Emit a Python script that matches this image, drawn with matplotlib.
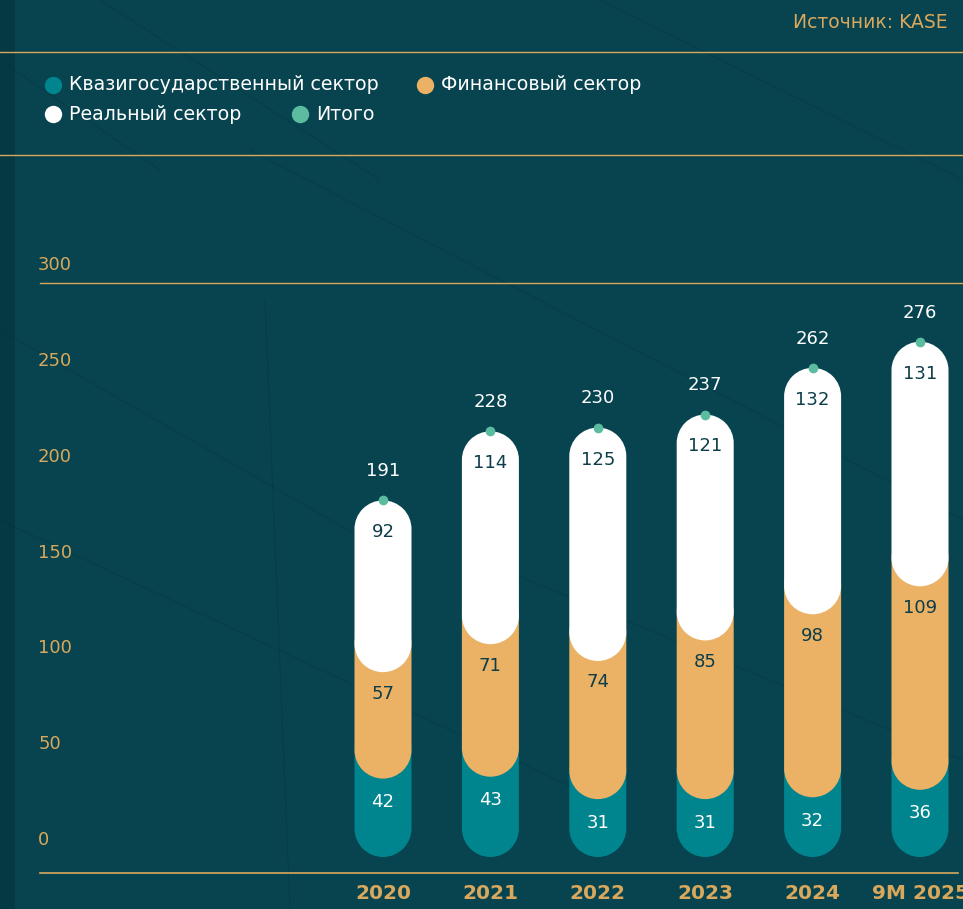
import matplotlib
matplotlib.use("Agg")
import matplotlib.pyplot as plt
from matplotlib.patches import Rectangle, PathPatch
from matplotlib.path import Path
import numpy as np

# ---------- data ----------
years = ['2020', '2021', '2022', '2023', '2024', '9M 2025']
quasi = [42, 43, 31, 31, 32, 36]          # Квазигосударственный сектор
finance = [57, 71, 74, 85, 98, 109]       # Финансовый сектор
real = [92, 114, 125, 121, 132, 131]      # Реальный сектор
totals = [191, 228, 230, 237, 262, 276]   # Итого
y_ticks = [0, 50, 100, 150, 200, 250, 300]

series_names = ['Квазигосударственный сектор', 'Финансовый сектор', 'Реальный сектор', 'Итого']

BG = '#07444F'
TEAL = '#00858F'
ORANGE = '#EBB164'
WHITE = '#FFFFFF'
GREEN = '#5CBC9F'
GOLD = '#D9A85C'
DARK = '#0C3D48'

plt.rcParams['font.family'] = ['DejaVu Sans']

W, H = 963, 909
fig = plt.figure(figsize=(W / 100, H / 100), dpi=100)
fig.patch.set_facecolor(BG)

# ---------- background / decorations (pixel coords) ----------
deco = fig.add_axes([0, 0, 1, 1])
deco.set_xlim(0, W)
deco.set_ylim(H, 0)
deco.axis('off')
deco.add_patch(Rectangle((0, 0), 15, H, color='#053a43', lw=0))
# faint texture lines of the backdrop
for (xa, ya, xb, yb) in [(0, 330, 400, 560), (0, 520, 600, 800), (100, 0, 380, 180),
                         (250, 150, 963, 520), (600, 0, 963, 180), (265, 300, 290, 909),
                         (0, 60, 160, 170), (480, 560, 963, 760)]:
    deco.plot([xa, xb], [ya, yb], color='#02303a', lw=0.8, alpha=0.3)
deco.axhline(52, color=GOLD, lw=1.0)
deco.axhline(155, color=GOLD, lw=1.0)
deco.text(948, 23, 'Источник: KASE', color=GOLD, fontsize=13.5, ha='right', va='center')

legend_pos = [(53, 85), (425, 85), (53, 114), (300, 114)]
legend_cols = [TEAL, ORANGE, WHITE, GREEN]
for (lx, ly), c, name in zip(legend_pos, legend_cols, series_names):
    deco.plot(lx, ly, 'o', ms=12.5, color=c, mec='none')
    deco.text(lx + 16, ly, name, color='white', fontsize=13.7, va='center', ha='left')

# ---------- y tick labels (their own scale, as in the original) ----------
ax_y = fig.add_axes([38 / W, (H - 838) / H, 0.0001, 575 / H])
ax_y.set_ylim(0, 300)
ax_y.set_frame_on(False)
ax_y.set_xticks([])
ax_y.yaxis.tick_right()
ax_y.set_yticks(y_ticks)
ax_y.tick_params(axis='y', length=0, pad=0, labelcolor=GOLD, labelsize=13)

# ---------- main bar axes ----------
px_per_cat = 107.4
px_per_val = 1.867
x0_px, ax_left, ax_right = 383, 40, W
zero_px, ax_top, ax_bot = 857, 283, 873
ax = fig.add_axes([ax_left / W, (H - ax_bot) / H, (ax_right - ax_left) / W, (ax_bot - ax_top) / H])
ax.set_xlim((ax_left - x0_px) / px_per_cat, (ax_right - x0_px) / px_per_cat)
ax.set_ylim((zero_px - ax_bot) / px_per_val, (zero_px - ax_top) / px_per_val)
ax.patch.set_alpha(0)
for s in ['left', 'right', 'bottom']:
    ax.spines[s].set_visible(False)
ax.spines['top'].set_color(GOLD)
ax.spines['top'].set_linewidth(1.0)
ax.axhline(ax.get_ylim()[0], xmax=(958 - ax_left) / (ax_right - ax_left), color=GOLD, lw=1.2,
           clip_on=False)
ax.set_yticks([])
x = np.arange(len(years))
ax.set_xticks(x)
ax.set_xticklabels(years, color=GOLD, fontsize=14.5, fontweight='bold')
ax.tick_params(axis='x', length=0, pad=8)

bar_w = 57 / px_per_cat
r_y = (bar_w / 2) * px_per_cat / px_per_val   # cap radius in value units


def pill(xc, y0, y1, color, z):
    # one closed outline: semicircular caps joined by straight sides
    rx = bar_w / 2
    top = Path.arc(0, 180)
    bot = Path.arc(180, 360)
    tv = top.vertices * [rx, r_y] + [xc, y1 - r_y]
    bv = bot.vertices * [rx, r_y] + [xc, y0 + r_y]
    verts = np.concatenate([tv, bv, tv[:1]])
    codes = list(top.codes) + [Path.LINETO] + list(bot.codes[1:]) + [Path.CLOSEPOLY]
    ax.add_patch(PathPatch(Path(verts, codes), fc=color, ec='none', zorder=z))


segments = [(quasi, TEAL, 'white', -17), (finance, ORANGE, DARK, -15.5), (real, WHITE, DARK, -23)]
for i in range(len(years)):
    base = 0
    for k, (vals, col, tcol, off) in enumerate(segments):
        top = base + vals[i]
        patch_top = totals[i] if k == len(segments) - 1 else min(top + 2 * r_y, totals[i])
        pill(x[i], base, patch_top, col, 2 + k)
        ax.annotate(str(vals[i]), (x[i], top), xytext=(0, off), textcoords='offset points',
                    ha='center', va='center', color=tcol, fontsize=13, zorder=10)
        base = top

ax.plot(x, totals, 'o', ms=7, color=GREEN, mec='none', zorder=8, clip_on=False)
for xi, t in zip(x, totals):
    ax.annotate(str(t), (xi, t), xytext=(0, 21), textcoords='offset points',
                ha='center', va='center', color='white', fontsize=13, zorder=10)

fig.savefig('out.png', dpi=100, facecolor=BG)
